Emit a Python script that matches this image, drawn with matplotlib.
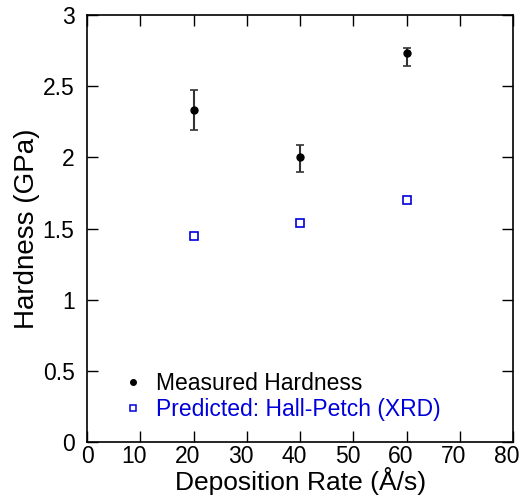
import matplotlib.pyplot as plt
import matplotlib.transforms as mtransforms

plt.rcParams['font.family'] = ['Liberation Sans', 'DejaVu Sans']

# data
rate = [20, 40, 60]
measured = [2.33, 2.00, 2.73]
err_low = [0.14, 0.10, 0.09]
err_high = [0.14, 0.09, 0.04]
predicted = [1.45, 1.54, 1.70]

x_ticks = [0, 10, 20, 30, 40, 50, 60, 70, 80]
y_ticks = [0, 0.5, 1, 1.5, 2, 2.5, 3]
y_labels = ['0', '0.5', '1', '1.5', '2', '2.5', '3']

fig = plt.figure(figsize=(5.21, 4.99), dpi=100)
ax = fig.add_axes([0.167, 0.114, 0.818, 0.856])

ax.errorbar(rate, measured, yerr=[err_low, err_high], fmt='o', color='black',
            ecolor='#333333', elinewidth=1.5, capsize=3, capthick=1.2,
            markersize=5, label='Measured Hardness')
ax.plot(rate, predicted, 's', markerfacecolor='none', markeredgecolor='#0000dd',
        markeredgewidth=1.2, markersize=6, linestyle='none',
        label='Predicted: Hall-Petch (XRD)')

ax.set_xlim(0, 80)
ax.set_ylim(0, 3)
ax.set_xticks(x_ticks)
ax.set_yticks(y_ticks)
ax.set_yticklabels(y_labels)
ax.tick_params(direction='in', length=8, width=1, labelsize=16.5,
               top=True, right=True)
ax.tick_params(axis='x', pad=2)
ax.tick_params(axis='y', pad=9)
for s in ax.spines.values():
    s.set_linewidth(1.2)

# nudge x tick labels (except 0) slightly left, as in the original
shift = mtransforms.ScaledTranslation(-6 / 100, 0, fig.dpi_scale_trans)
for lab in ax.get_xticklabels()[1:]:
    lab.set_transform(lab.get_transform() + shift)

ax.set_xlabel('Deposition Rate (Å/s)', fontsize=19, labelpad=-1)
ax.set_ylabel('Hardness (GPa)', fontsize=20, labelpad=2)

# legend without error bars
h1 = ax.plot([], [], 'o', color='black', markersize=4)[0]
h2 = ax.plot([], [], 's', markerfacecolor='none', markeredgecolor='#0000dd',
             markersize=5, markeredgewidth=1.1)[0]
leg = ax.legend([h1, h2], ['Measured Hardness', 'Predicted: Hall-Petch (XRD)'],
                loc='lower left', bbox_to_anchor=(0.06, 0.022), frameon=False,
                fontsize=16.5, handlelength=0.8, handletextpad=0.6,
                labelspacing=0.15, borderpad=0)
leg.get_texts()[1].set_color('#0000dd')

fig.savefig('out.png', dpi=100)
